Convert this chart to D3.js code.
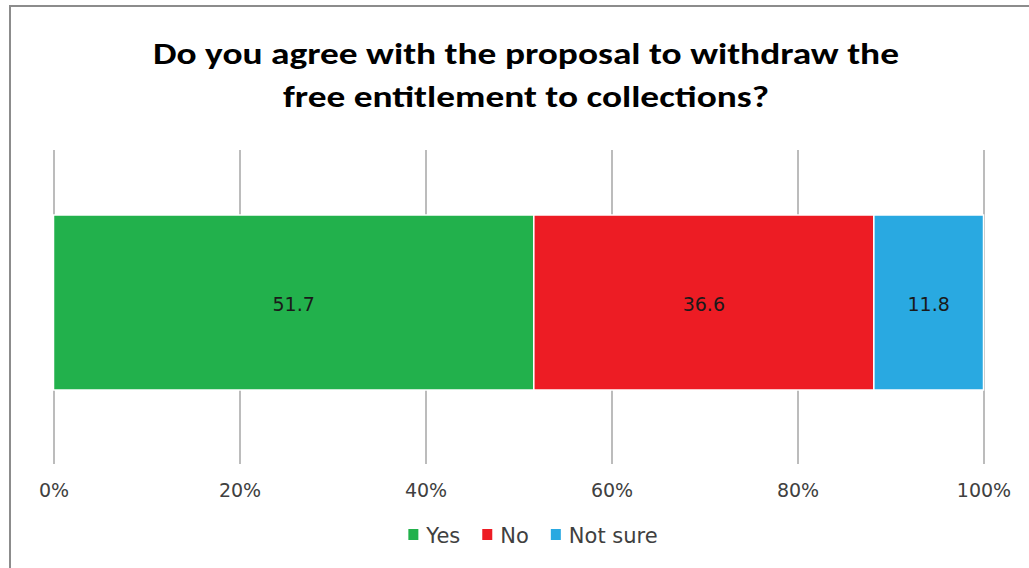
<!DOCTYPE html>
<html>
<head>
<meta charset="utf-8">
<script src="https://cdn.jsdelivr.net/npm/d3@7"></script>
<style>
  html, body { margin: 0; padding: 0; background: #ffffff; }
  svg { display: block; }
</style>
</head>
<body>
<svg id="chart" width="1029" height="568"></svg>
<script>
// ---- data ----
const titleLines = ["Do you agree with the proposal to withdraw the", "free entitlement to collections?"];
const categories = ["Question"];
const seriesNames = ["Yes", "No", "Not sure"];
const seriesValues = [51.7, 36.6, 11.8];
const seriesColors = ["#22B14C", "#ED1C24", "#29A9E1"];
const tickValues = [0, 0.2, 0.4, 0.6, 0.8, 1.0];
const tickLabels = ["0%", "20%", "40%", "60%", "80%", "100%"];

const svg = d3.select("#chart");
const W = 1029, H = 568;

// border
svg.append("rect")
  .attr("x", 10).attr("y", 6)
  .attr("width", W + 20).attr("height", H + 20)
  .attr("fill", "#ffffff")
  .attr("stroke", "#8c8c8c")
  .attr("stroke-width", 2);

// scales
const x = d3.scaleLinear().domain([0, 1]).range([53.5, 983.5]);
const y = d3.scaleBand().domain(categories).range([127.5, 477.5]).paddingInner(0).paddingOuter(0.5);

const gridTop = 150, gridBottom = 464;

// axis with gridlines
const axis = d3.axisBottom(x)
  .tickValues(tickValues)
  .tickFormat((d, i) => tickLabels[i])
  .tickSize(-(gridBottom - gridTop))
  .tickPadding(20);

const gAxis = svg.append("g")
  .attr("transform", `translate(0,${gridBottom})`)
  .call(axis);
gAxis.select(".domain").remove();
gAxis.selectAll(".tick line")
  .attr("stroke", "#a6a6a6")
  .attr("stroke-width", 1.5);
gAxis.selectAll(".tick text")
  .attr("font-family", "'DejaVu Sans', Verdana, sans-serif")
  .attr("font-size", 19)
  .attr("fill", "#404040");

// stacked data
const row = { cat: categories[0] };
seriesNames.forEach((n, i) => row[n] = seriesValues[i]);
const stacked = d3.stack().keys(seriesNames).offset(d3.stackOffsetExpand)([row]);

const gBars = svg.append("g");
stacked.forEach((s, i) => {
  s.forEach(d => {
    gBars.append("rect")
      .attr("x", x(d[0]))
      .attr("y", y(d.data.cat))
      .attr("width", x(d[1]) - x(d[0]))
      .attr("height", y.bandwidth())
      .attr("fill", seriesColors[i])
      .attr("stroke", "#ffffff")
      .attr("stroke-width", 1.5);
    gBars.append("text")
      .attr("x", (x(d[0]) + x(d[1])) / 2)
      .attr("y", y(d.data.cat) + y.bandwidth() / 2 + 1)
      .attr("text-anchor", "middle")
      .attr("dominant-baseline", "central")
      .attr("font-family", "'DejaVu Sans', Verdana, sans-serif")
      .attr("font-size", 19)
      .attr("fill", "#1a1a1a")
      .text(seriesValues[i].toFixed(1));
  });
});

// title
const titleX = 526;
const titleBaselines = [64, 107];
const titleWidths = [746, 486];
titleLines.forEach((t, i) => {
  svg.append("text")
    .attr("x", titleX)
    .attr("y", titleBaselines[i])
    .attr("text-anchor", "middle")
    .attr("font-family", "Carlito, 'Open Sans', sans-serif")
    .attr("font-weight", "bold")
    .attr("font-size", 30)
    .attr("fill", "#000000")
    .attr("textLength", titleWidths[i])
    .attr("lengthAdjust", "spacingAndGlyphs")
    .text(t);
});

// legend
const legendY = 535;
const legendCenter = 533;
const gLeg = svg.append("g");
const items = [];
let cursor = 0;
const gap = 22;
seriesNames.forEach((n, i) => {
  const g = gLeg.append("g");
  g.append("rect")
    .attr("x", 0).attr("y", -6)
    .attr("width", 10).attr("height", 11)
    .attr("fill", seriesColors[i]);
  const t = g.append("text")
    .attr("x", 18).attr("y", 8)
    .attr("font-family", "'DejaVu Sans', Verdana, sans-serif")
    .attr("font-size", 21)
    .attr("fill", "#404040")
    .text(n);
  const w = 18 + t.node().getComputedTextLength();
  items.push({ g, start: cursor });
  cursor += w + gap;
});
const total = cursor - gap;
const startX = legendCenter - total / 2;
items.forEach(it => it.g.attr("transform", `translate(${startX + it.start},${legendY})`));
</script>
</body>
</html>
